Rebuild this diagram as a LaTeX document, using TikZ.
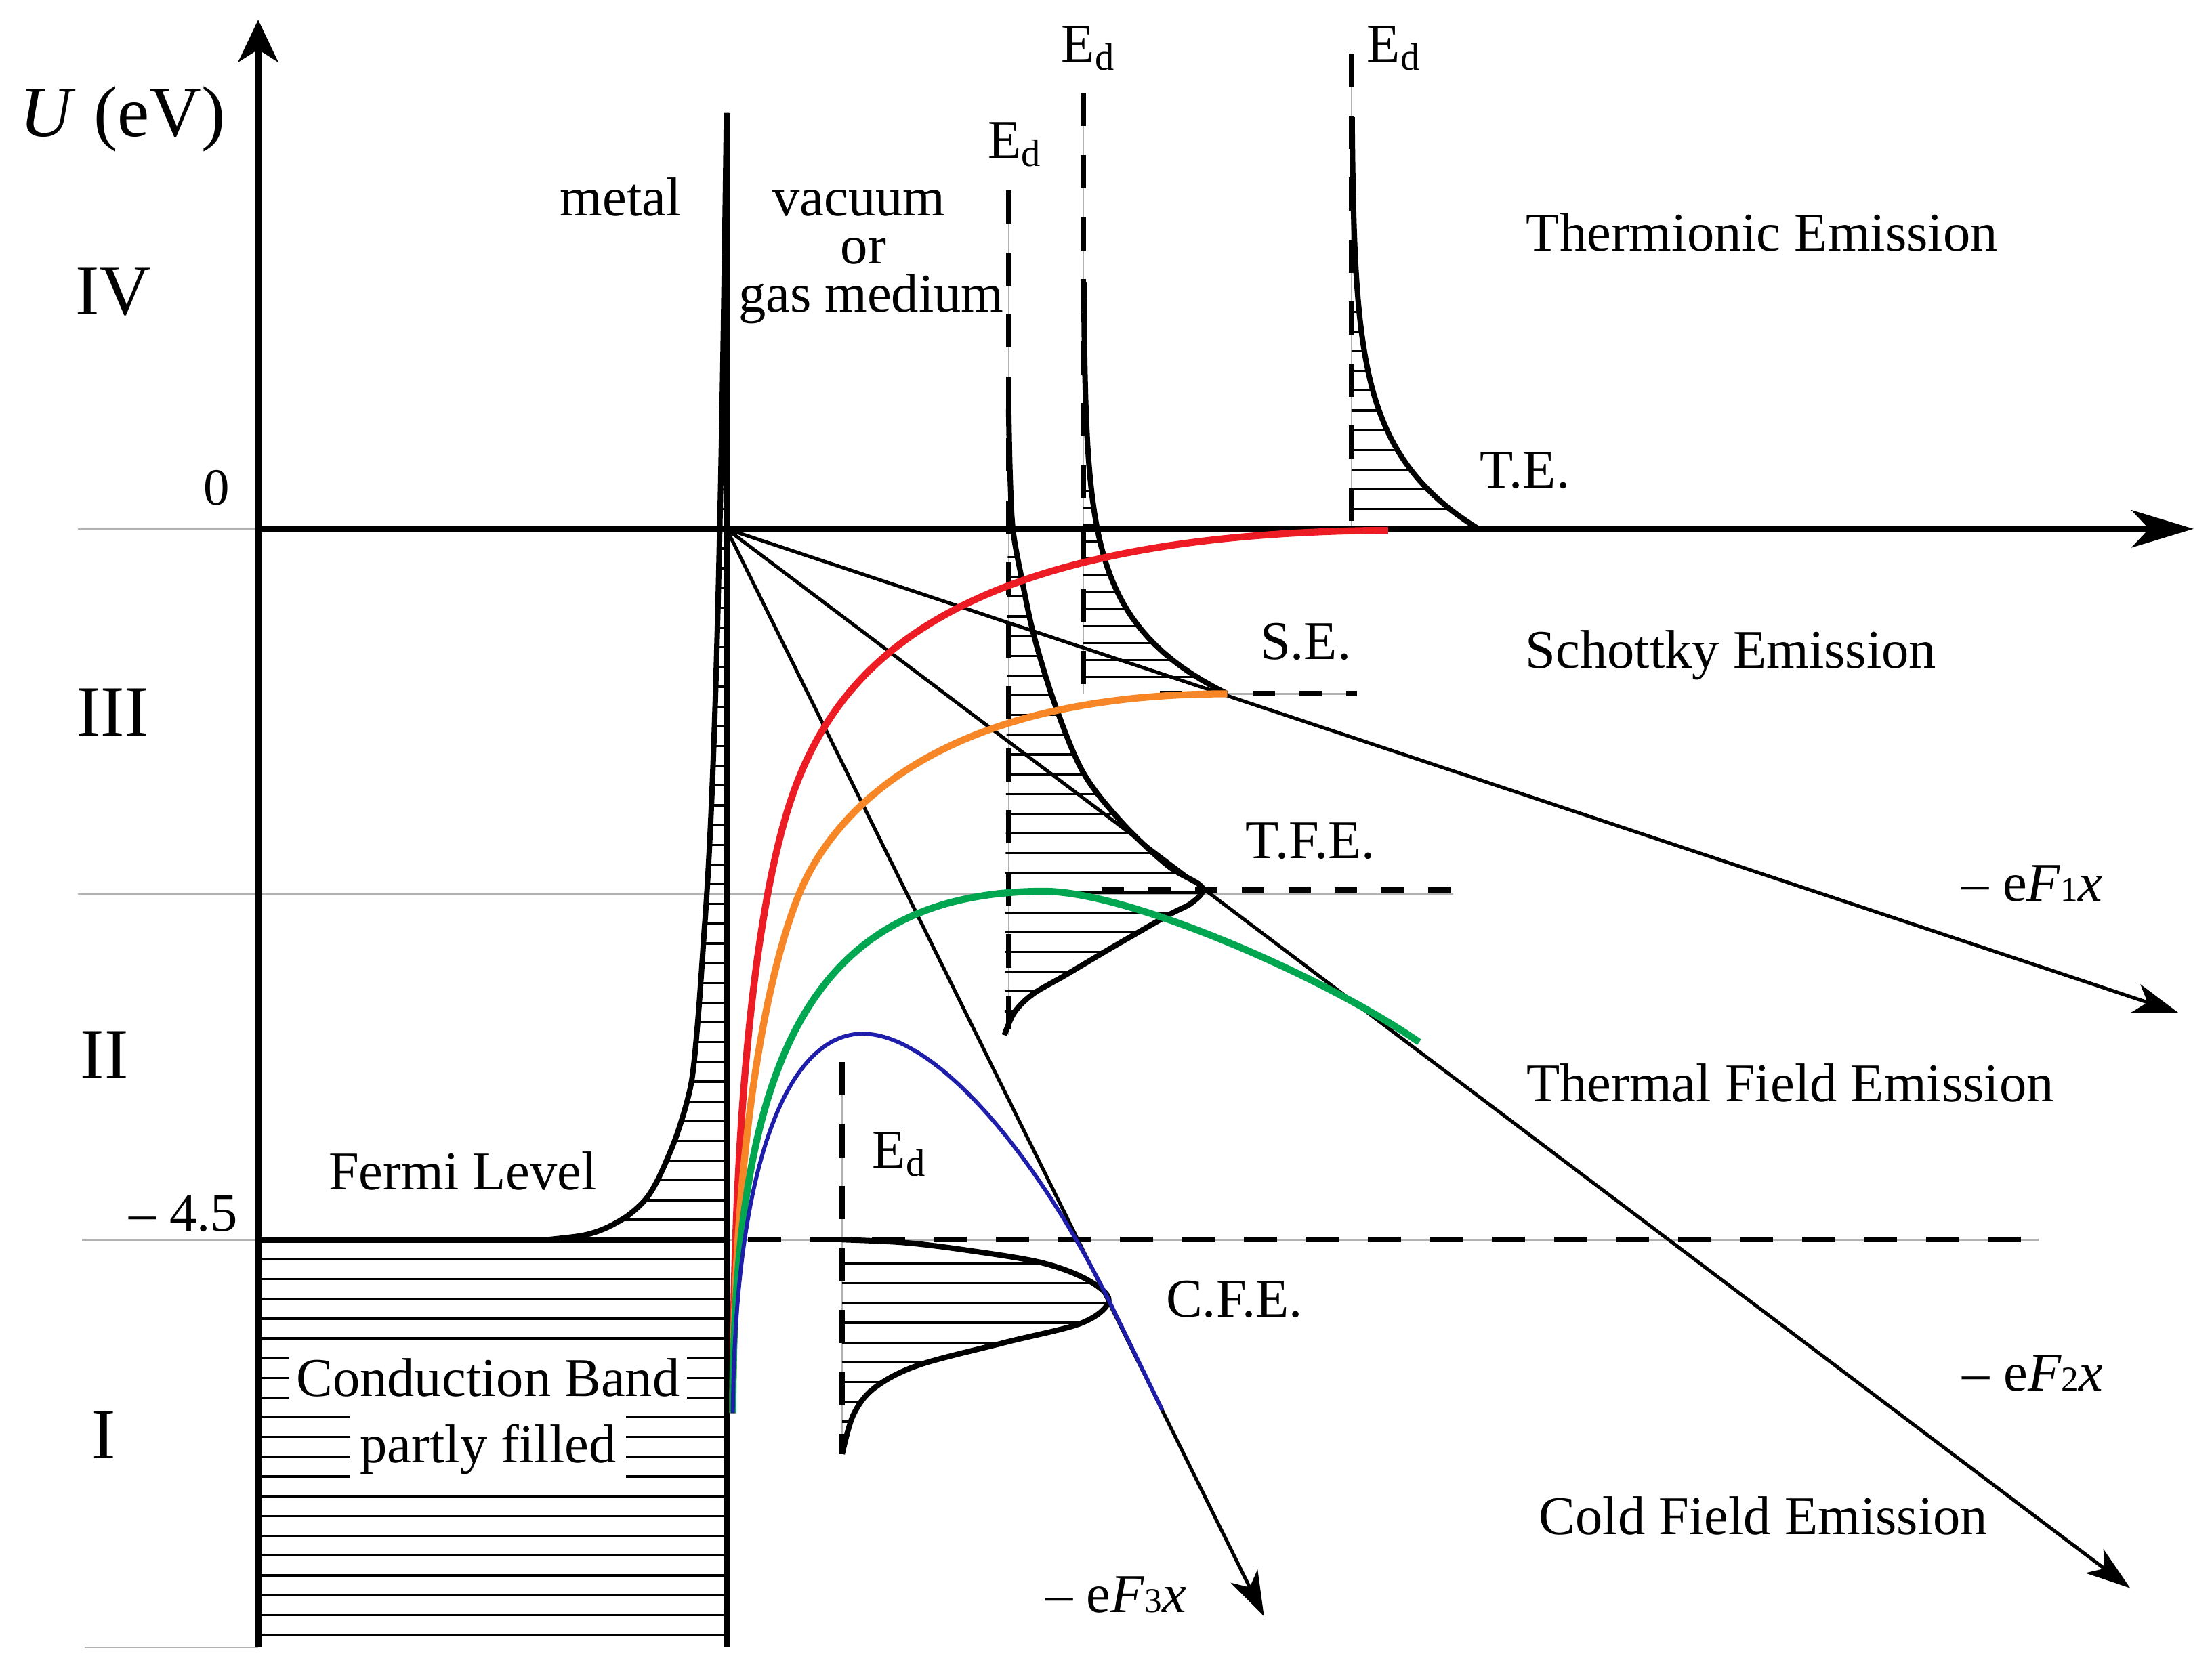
\documentclass[tikz,border=0pt]{standalone}
\usepackage{fontspec}
\setmainfont{Liberation Serif}
\usepackage{tikz}
\usetikzlibrary{arrows.meta,positioning,calc}
\definecolor{teRed}{RGB}{237,28,36}
\definecolor{seOrange}{RGB}{247,134,38}
\definecolor{tfeGreen}{RGB}{0,166,80}
\definecolor{cfeBlue}{RGB}{30,30,170}
\tikzstyle{axis}=[line width=1.3pt]
\tikzstyle{field}=[line width=0.7pt,-{Stealth[length=9pt,width=6pt,inset=2.5pt]}]
\tikzstyle{hatch}=[line width=0.45pt]
\tikzstyle{distrib}=[line width=1.1pt]
\tikzstyle{guide}=[black!30,line width=0.35pt]
\tikzstyle{longdash}=[line width=1.1pt,dash pattern=on 6.7pt off 5.8pt]
\tikzstyle{shortdash}=[line width=1.1pt,dash pattern=on 4.5pt off 4.9pt]
\tikzstyle{emission}=[line width=1.4pt]
\tikzstyle{lbl}=[font=\fontsize{11}{11}\selectfont,inner sep=0pt,anchor=base]
\tikzstyle{numeral}=[font=\fontsize{14.5}{15}\selectfont,inner sep=0pt,anchor=base]
\tikzstyle{band}=[lbl,fill=white,inner xsep=1.5pt,inner ysep=1pt,text height=8.5pt,text depth=2.6pt]
\newcommand{\spikecurve}{plot[smooth,tension=0.5] coordinates {(388,879) (413,876) (429,871) (445,862) (458,850) (467.5,834) (480,804) (490,768) (495,720) (499.2,660)} -- plot[domain=650:80,samples=120] ({515-(4337/(912.6-\x)-0.0065*(879-\x))},\x)}
\newcommand{\tecurve}{plot[domain=83:375,samples=60] ({958+90*exp(-(375-\x)/55)},\x)}
\newcommand{\securve}{plot[domain=200:492,samples=60] ({768+102*exp(-(492-\x)/50)},\x)}
\newcommand{\tfecurve}{plot[smooth,tension=0.55] coordinates {(715,290) (716,336) (718,375) (724,409) (733,451) (748,500) (768,548) (796,584) (828,614) (852,629) (845,640) (828,649) (788,672) (756,691) (732,705) (719,718) (712,734)}}
\newcommand{\cfecurve}{plot[smooth,tension=0.55] coordinates {(597,879) (640,881) (682,886) (737,895) (770,907) (786,922) (767,938) (712,952) (651,968) (620,984) (605,1003) (597,1031)}}
\begin{document}
\begin{tikzpicture}[x=0.01cm,y=-0.01cm]
\useasboundingbox (0,0) rectangle (1568,1189);
\coordinate (O) at (515,375);
\coordinate (F1) at (1544,718);
\coordinate (F2) at (1510,1126);
\coordinate (F3) at (896,1146);
\coordinate (ytop) at (183,14);
\coordinate (xend) at (1555,375);
\coordinate (base) at (183,1168);
\coordinate (mbase) at (515,1168);
\coordinate (fermi) at (183,879);
\coordinate (mfermi) at (515,879);
\coordinate (wall) at (519.5,1002);

\draw[guide] (55,375) -- (183,375);
\draw[guide] (55,634) -- (1030,634);
\draw[guide] (58,879) -- (fermi) (mfermi) -- (1445,879);
\draw[guide] (60,1168) -- (base);
\draw[guide] (958,38) -- (958,375) (768,66) -- (768,492) (715,135) -- (715,734) (597,753) -- (597,1031) (822,492) -- (962,492);

\foreach \yy in {893,907,...,1159} \draw[hatch] (183,\yy) -- (515,\yy);
\begin{scope}
\clip \spikecurve -- (515,879) -- cycle;
\foreach \yy in {865,851,...,319} \draw[hatch] (380,\yy) -- (520,\yy);
\end{scope}
\begin{scope}
\clip \tecurve -- (958,375) -- (958,83) -- cycle;
\foreach \yy in {221,235,...,361} \draw[hatch] (950,\yy) -- (1060,\yy);
\end{scope}
\begin{scope}
\clip \securve -- (768,492) -- (768,200) -- cycle;
\foreach \yy in {348,360,...,480} \draw[hatch] (760,\yy) -- (880,\yy);
\end{scope}
\begin{scope}
\clip \tfecurve -- cycle;
\foreach \yy in {395,409,...,731} \draw[hatch] (705,\yy) -- (860,\yy);
\end{scope}
\begin{scope}
\clip \cfecurve -- cycle;
\foreach \yy in {896,910,...,1022} \draw[hatch] (590,\yy) -- (800,\yy);
\end{scope}

\draw[longdash] (958,38) -- (958,375);
\draw[longdash] (768,66) -- (768,492);
\draw[longdash] (715,135) -- (715,734);
\draw[longdash] (597,753) -- (597,1031);
\draw[longdash] (530,879) -- (1445,879);
\draw[shortdash] (822,492) -- (962,492);
\draw[shortdash] (781,631) -- (1030,631);

\draw[axis,-{Stealth[length=8.5pt,width=8pt,inset=2.5pt]}] (base) -- (ytop);
\draw[axis,-{Stealth[length=12.5pt,width=7.5pt,inset=3.5pt]}] (183,375) -- (xend);
\draw[axis] (fermi) -- (mfermi);
\draw[axis] (mbase) -- (515,80);
\draw[distrib] \spikecurve;
\draw[distrib] \tecurve;
\draw[distrib] \securve;
\draw[distrib] \tfecurve;
\draw[distrib] \cfecurve;

\draw[field] (O) -- (F1);
\draw[field] (O) -- (F2);
\draw[field] (O) -- (F3);

\draw[emission,teRed] (wall) .. controls (519.5,760) and (540,615) .. (567,550) .. controls (600,470) and (680,378) .. (984,376);
\draw[emission,seOrange] (wall) .. controls (519.5,800) and (546,685) .. (566,635) .. controls (588,580) and (660,492) .. (870,492);
\draw[emission,tfeGreen] (wall) .. controls (519.5,760) and (570,632) .. (740,632) .. controls (800,632) and (940,693) .. (1006,739);
\draw[cfeBlue,line width=0.8pt] (wall) .. controls (521,820) and (560,733) .. (611.5,733) .. controls (660,733) and (730,810) .. (786,922) -- (824,1000);

\node[numeral] (ulabel) at (87,97) {\textit{U} (eV)};
\node[numeral] (rIV) at (80.5,223) {IV};
\node[numeral] (rIII) at (80,522) {III};
\node[numeral] (rII) at (74,765) {II};
\node[numeral] (rI) at (73.5,1034) {I};
\node[lbl,font=\fontsize{10.5}{11}\selectfont] (zero) at (153.5,358) {0};
\node[lbl] (mfour) at (130,873) {-- 4.5};
\node[lbl] (metal) at (440,153) {metal};
\node[lbl] (vacuum) at (609,153) {vacuum};
\node[lbl] (orword) at (612,187) {or};
\node[lbl] (gas) at (617.5,221) {gas medium};
\node[lbl] (edTFE) at (720,112) {E\textsubscript{d}};
\node[lbl] (edSE) at (772,44) {E\textsubscript{d}};
\node[lbl] (edTE) at (988.5,44) {E\textsubscript{d}};
\node[lbl] (edCFE) at (638,828) {E\textsubscript{d}};
\node[lbl] (thermionic) at (1249,178) {Thermionic Emission};
\node[lbl] (te) at (1081,346) {T.E.};
\node[lbl] (se) at (925.5,467.5) {S.E.};
\node[lbl] (schottky) at (1227,474) {Schottky Emission};
\node[lbl] (tfe) at (929,608.5) {T.F.E.};
\node[lbl] (ef1) at (1440.5,639) {-- e\textit{F}{\fontsize{7}{7}\selectfont 1}\textit{x}};
\node[lbl] (thermalfield) at (1269,781) {Thermal Field Emission};
\node[lbl] (cfe) at (875,934) {C.F.E.};
\node[lbl] (ef2) at (1441,986) {-- e\textit{F}{\fontsize{7}{7}\selectfont 2}\textit{x}};
\node[lbl] (coldfield) at (1250,1088) {Cold Field Emission};
\node[lbl] (ef3) at (791,1143) {-- e\textit{F}{\fontsize{7}{7}\selectfont 3}\textit{x}};
\node[lbl] (fermilabel) at (328,843.5) {Fermi Level};
\node[band] (cband) at (346,990) {Conduction Band};
\node[band,inner xsep=2pt] (partly) at (346,1037) {partly filled};
\end{tikzpicture}
\end{document}
